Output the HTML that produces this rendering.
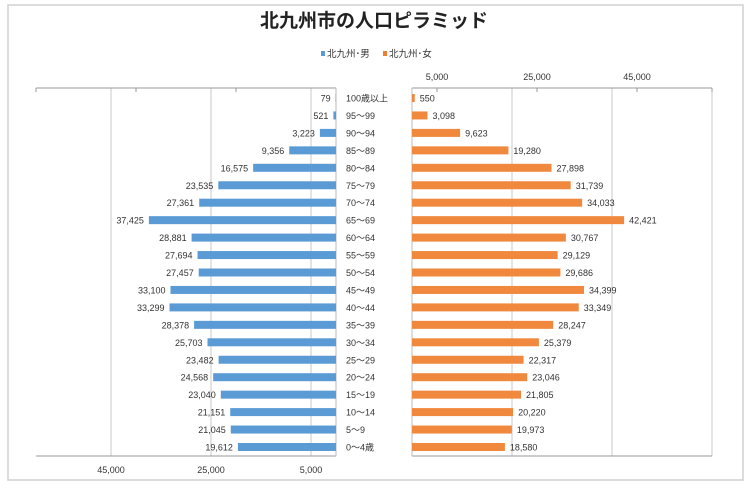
<!DOCTYPE html>
<html><head><meta charset="utf-8"><style>
body{margin:0;background:#fff;font-family:"Liberation Sans","Noto Sans CJK JP",sans-serif}
svg text{font-family:"Liberation Sans","Noto Sans CJK JP",sans-serif}
</style></head><body>
<svg id="c" width="748" height="485" xmlns="http://www.w3.org/2000/svg">
<rect x="8" y="5" width="735" height="475" fill="#fff" stroke="#d0d0d0" stroke-width="1.5"/>
<text x="374" y="27" font-size="19" font-weight="bold" text-anchor="middle" fill="#222">北九州市の人口ピラミッド</text>
<g>
<rect x="321" y="51" width="4" height="5" fill="#5b9bd5"/>
<text x="327" y="57" font-size="9.5" fill="#333">北九州･男</text>
<rect x="383" y="51" width="4" height="5" fill="#ed7d31"/>
<text x="389" y="57" font-size="9.5" fill="#333">北九州･女</text>
</g>
<g id="grid"></g><g id="bars"></g>
</svg>
<script>
const ages=["100歳以上","95～99","90～94","85～89","80～84","75～79","70～74","65～69","60～64","55～59","50～54","45～49","40～44","35～39","30～34","25～29","20～24","15～19","10～14","5～9","0～4歳"];
const male=[79,521,3223,9356,16575,23535,27361,37425,28881,27694,27457,33100,33299,28378,25703,23482,24568,23040,21151,21045,19612];
const female=[550,3098,9623,19280,27898,31739,34033,42421,30767,29129,29686,34399,33349,28247,25379,22317,23046,21805,20220,19973,18580];
const maleTicks=[45000,25000,5000];
const femaleTicks=[5000,25000,45000];
const NS="http://www.w3.org/2000/svg";
const mZero=336,fZero=412,scale=5/1000,top0=88,bot=456;
const xm=v=>mZero-v*scale, xf=v=>fZero+v*scale;
const yRow=i=>98+i*(447-98)/(ages.length-1);
function mk(t,a,p){const e=document.createElementNS(NS,t);for(const k in a)e.setAttribute(k,a[k]);(p||document.getElementById('bars')).appendChild(e);return e;}
const g=document.getElementById('grid');
[xm(45000),xm(25000),xm(5000),fZero+20000*scale,fZero+40000*scale,xf(60000)].forEach(x=>{
 const l=mk('line',{x1:x,x2:x,y1:top0,y2:bot,stroke:'#c8c8c8','stroke-width':1},g);
 
 
});
[[xm(60000),mZero],[fZero,xf(60000)]].forEach(([a,b])=>{
 let l=mk('line',{x1:a,x2:b,y1:top0,y2:top0,stroke:'#999'},g);
 
 
 l=mk('line',{x1:a,x2:b,y1:bot,y2:bot,stroke:'#999'},g);
 
 
});
[xm(60000),xm(40000),xm(20000),xf(5000),xf(25000),xf(45000),xf(60000)].forEach(x=>{
 const l=mk('line',{x1:x,x2:x,y1:top0,y2:top0+4,stroke:'#999'},g);
 
 
});
[mZero,fZero].forEach(x=>{const l=mk('line',{x1:x,x2:x,y1:top0,y2:bot,stroke:'#bbb'},g);
 
 });
maleTicks.forEach(v=>{const t=mk('text',{x:xm(v),y:473,'font-size':9,'text-anchor':'middle',fill:'#333'},g);t.textContent=v.toLocaleString('en-US');
 
 });
femaleTicks.forEach(v=>{const t=mk('text',{x:xf(v),y:80,'font-size':9,'text-anchor':'middle',fill:'#333'},g);t.textContent=v.toLocaleString('en-US');
 
 });
ages.forEach((a,i)=>{
 const y=yRow(i);
 let r=mk('rect',{x:xm(male[i]),y:y-4,width:male[i]*scale,height:8,fill:'#5b9bd5'});
 
 
 r=mk('rect',{x:fZero,y:y-4,width:female[i]*scale,height:8,fill:'#f0883e'});
 
 
 let t=mk('text',{x:xm(male[i])-5,y:y+3.5,'font-size':9,'text-anchor':'end',fill:'#333'});t.textContent=male[i].toLocaleString('en-US');
 
 
 t=mk('text',{x:xf(female[i])+5,y:y+3.5,'font-size':9,fill:'#333'});t.textContent=female[i].toLocaleString('en-US');
 
 
 t=mk('text',{x:346,y:y+3.5,'font-size':9,fill:'#333'});t.textContent=a;
 
 
});
</script>
</body></html>
